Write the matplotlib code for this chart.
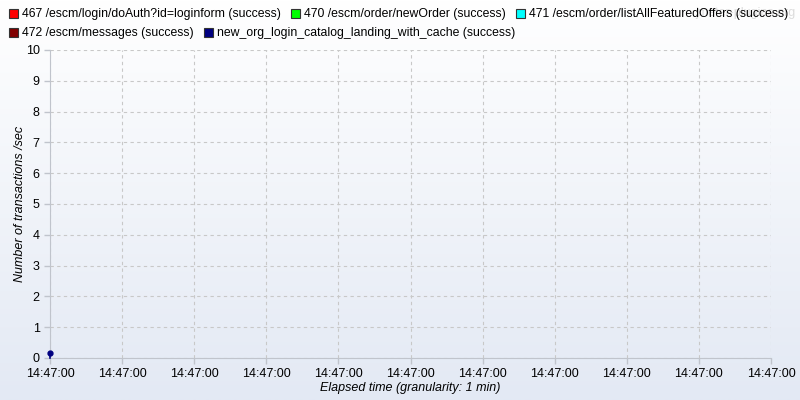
import numpy as np
import matplotlib.pyplot as plt
from matplotlib.patches import Rectangle

plt.rcParams['font.family'] = ['Liberation Sans', 'DejaVu Sans']

# ---------- data ----------
series_names = [
    "467 /escm/login/doAuth?id=loginform (success)",
    "470 /escm/order/newOrder (success)",
    "471 /escm/order/listAllFeaturedOffers (success)",
    "472 /escm/messages (success)",
    "new_org_login_catalog_landing_with_cache (success)",
]
series_colors = ["#ff0000", "#00ff00", "#00ffff", "#800000", "#000080"]
# only the last series has a visible point (dot with a short drop to the axis)
point_x = [0, 0]
point_y = [0.17, 0.0]
x_ticks = list(range(11))
x_tick_labels = ["14:47:00"] * 11
y_ticks = list(range(11))

# ---------- figure ----------
fig = plt.figure(figsize=(8, 4), dpi=100)

# background gradient
bg = fig.add_axes([0, 0, 1, 1], zorder=-10)
grad = np.linspace(0, 1, 256).reshape(-1, 1)
top = np.array([1.0, 1.0, 1.0])
bot = np.array([0xe3, 0xe9, 0xf4]) / 255
img = top + (bot - top) * grad[:, :, None]
bg.imshow(img, aspect='auto', extent=[0, 1, 0, 1])
bg.axis('off')

ax = fig.add_axes([50 / 800, 42 / 400, 721 / 800, 308 / 400])
ax.patch.set_alpha(0)
ax.plot(point_x, point_y, color=series_colors[4], linewidth=1.2, clip_on=False, zorder=5)
ax.plot(point_x[:1], point_y[:1], 'o', markersize=3.5, color=series_colors[4], clip_on=False, zorder=6)
ax.set_xlim(0, 10)
ax.set_ylim(0, 10)
ax.set_xticks(x_ticks)
ax.set_xticklabels(x_tick_labels)
ax.set_yticks(y_ticks)
ax.tick_params(colors='#c0c4cc', labelcolor='black', labelsize=9, length=4, width=1)
for s in ['top', 'right']:
    ax.spines[s].set_visible(False)
for s in ['left', 'bottom']:
    ax.spines[s].set_color('#c0c4cc')
ax.grid(True, color='#c8c8c8', linestyle=(0, (3, 3)), linewidth=0.8)
ax.set_axisbelow(True)
ax.set_xlabel("Elapsed time (granularity: 1 min)", fontsize=9, style='italic', labelpad=1)
ax.set_ylabel("Number of transactions /sec", fontsize=9, style='italic', labelpad=0)

# watermark (drawn under the legend text, as in the original)
fig.text(796 / 800, 1 - 13 / 400, "jmeter-plugins.org", fontsize=9, color='#dcdcdc',
         ha='right', va='center', zorder=0)

# ---------- legend (flow layout) ----------
fig.canvas.draw()
renderer = fig.canvas.get_renderer()
x, row_y = 9, 14
for name, col in zip(series_names, series_colors):
    t = fig.text(0, 0, name, fontsize=8.8, va='center', transform=None, zorder=2)
    w = t.get_window_extent(renderer).width
    if x + 13 + w > 805:
        x, row_y = 9, row_y + 19
    t.set_position((x + 13, 400 - row_y))
    fig.patches.append(Rectangle((x, 400 - row_y - 4), 9, 9, transform=None,
                                 facecolor=col, edgecolor='#333333', linewidth=0.8))
    x = x + 13 + w + 10

fig.savefig("out.png", dpi=100)
